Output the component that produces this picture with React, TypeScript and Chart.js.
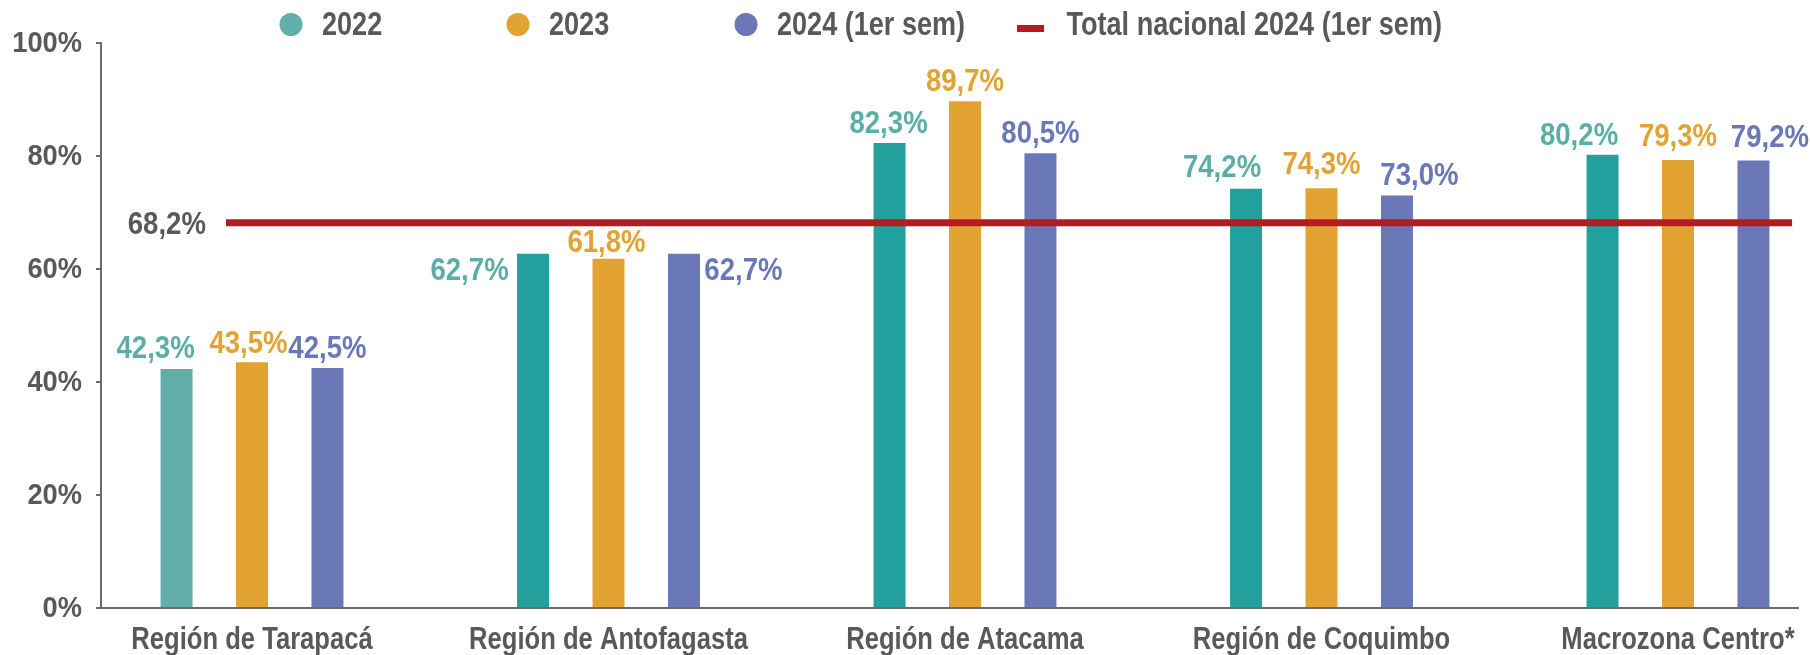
import React, { useEffect, useRef } from 'react';
import { Chart, registerables } from 'chart.js';

Chart.register(...registerables);

// ---------- data ----------
const CATEGORIES = [
  'Región de Tarapacá',
  'Región de Antofagasta',
  'Región de Atacama',
  'Región de Coquimbo',
  'Macrozona Centro*',
];
const SERIES_LABELS = ['2022', '2023', '2024 (1er sem)'];
const VALUES_2022 = [42.3, 62.7, 82.3, 74.2, 80.2];
const VALUES_2023 = [43.5, 61.8, 89.7, 74.3, 79.3];
const VALUES_2024 = [42.5, 62.7, 80.5, 73.0, 79.2];
const TOTAL_LABEL = 'Total nacional 2024 (1er sem)';
const TOTAL_NACIONAL = 68.2;
const Y_TICKS = [0, 20, 40, 60, 80, 100];

// ---------- style ----------
const FONT = "'Liberation Sans', Arial, sans-serif";
const TEXT = '#595959';
const AXIS = '#6b6b6b';
const TEAL = '#22a09e';
const TEAL_LIGHT = '#62afa9';
const TEAL_LABEL = '#5aaea6';
const ORANGE = '#e3a332';
const BLUE = '#6a78b8';
const RED = '#b31c22';

const X_MIN = -0.4236;
const X_MAX = 4.3366;
const LINE_FROM = -0.073;
const LINE_TO = 4.32;

const LABEL_COLORS = [TEAL_LABEL, ORANGE, BLUE];
const LABEL_DX = [
  [-21, -63.5, -1, -24, -23.5],
  [-3.5, -2, 0, 0, 0],
  [0, 59.5, 0, 22.5, 16.5],
];
const LABEL_DY = [
  [-21, 16, -20, -21.5, -20],
  [-19.5, -17, -20, -24, -24],
  [-20, 16, -20, -21, -24],
];
const LEGEND_X = [291, 518, 746, 1030.5];
const LEGEND_TEXT_GAP = [31, 31, 31, 36];
const LEGEND_COLORS = [TEAL_LIGHT, ORANGE, BLUE, RED];
const LEGEND_Y = 24.5;

const fmt = (v: number) => v.toFixed(1).replace('.', ',') + '%';

function drawText(
  ctx: CanvasRenderingContext2D,
  text: string,
  x: number,
  y: number,
  align: CanvasTextAlign,
  size: number,
  sx: number,
  color: string
) {
  ctx.save();
  ctx.font = `bold ${size}px ${FONT}`;
  ctx.fillStyle = color;
  ctx.textAlign = align;
  ctx.textBaseline = 'middle';
  ctx.translate(x, y + size * 0.05);
  ctx.scale(sx, 1);
  ctx.fillText(text, 0, 0);
  ctx.restore();
}

const textPlugin = {
  id: 'allText',
  afterDatasetsDraw(chart: any) {
    const ctx = chart.ctx as CanvasRenderingContext2D;
    const xs = chart.scales.x;
    const ys = chart.scales.y;
    // value labels
    for (let d = 0; d < 3; d++) {
      const meta = chart.getDatasetMeta(d);
      meta.data.forEach((el: any, i: number) => {
        const v = chart.data.datasets[d].data[i].y;
        drawText(ctx, fmt(v), el.x + LABEL_DX[d][i], el.y + LABEL_DY[d][i], 'center', 31, 0.89, LABEL_COLORS[d]);
      });
    }
    // total label
    drawText(
      ctx,
      fmt(TOTAL_NACIONAL),
      xs.getPixelForValue(LINE_FROM) - 20,
      ys.getPixelForValue(TOTAL_NACIONAL) + 1.5,
      'right',
      31,
      0.89,
      TEXT
    );
    // y tick labels
    Y_TICKS.forEach((v) => {
      drawText(ctx, v + '%', xs.left - 19, ys.getPixelForValue(v), 'right', 29, 0.94, TEXT);
    });
    // x tick labels
    CATEGORIES.forEach((c, i) => {
      drawText(ctx, c, xs.getPixelForValue(i), ys.bottom + 30.5, 'center', 32, 0.8, TEXT);
    });
  },
  afterDraw(chart: any) {
    const ctx = chart.ctx as CanvasRenderingContext2D;
    chart.data.datasets.forEach((ds: any, i: number) => {
      const cx = LEGEND_X[i];
      ctx.save();
      ctx.fillStyle = LEGEND_COLORS[i];
      if (ds.type === 'line') {
        ctx.fillRect(cx - 13.5, LEGEND_Y + 0.5, 27, 7);
      } else {
        ctx.beginPath();
        ctx.arc(cx, LEGEND_Y, 11.5, 0, Math.PI * 2);
        ctx.fill();
      }
      ctx.restore();
      drawText(ctx, ds.label, cx + LEGEND_TEXT_GAP[i], LEGEND_Y, 'left', 33, 0.82, TEXT);
    });
  },
};

export default function App() {
  const ref = useRef<HTMLCanvasElement | null>(null);

  useEffect(() => {
    if (!ref.current) return;
    const barCommon = {
      type: 'bar' as const,
      borderWidth: 0,
      barPercentage: 0.424,
      categoryPercentage: 0.635,
    };
    const chart = new Chart(ref.current, {
      type: 'bar',
      data: {
        datasets: [
          {
            ...barCommon,
            label: SERIES_LABELS[0],
            data: VALUES_2022.map((v, i) => ({ x: i, y: v })),
            backgroundColor: VALUES_2022.map((_, i) => (i === 0 ? TEAL_LIGHT : TEAL)),
          },
          {
            ...barCommon,
            label: SERIES_LABELS[1],
            data: VALUES_2023.map((v, i) => ({ x: i, y: v })),
            backgroundColor: ORANGE,
          },
          {
            ...barCommon,
            label: SERIES_LABELS[2],
            data: VALUES_2024.map((v, i) => ({ x: i, y: v })),
            backgroundColor: BLUE,
          },
          {
            type: 'line',
            label: TOTAL_LABEL,
            data: [
              { x: LINE_FROM, y: TOTAL_NACIONAL },
              { x: LINE_TO, y: TOTAL_NACIONAL },
            ],
            borderColor: RED,
            borderWidth: 7,
            borderCapStyle: 'butt',
            pointRadius: 0,
            fill: false,
            order: -1,
          } as any,
        ],
      },
      options: {
        animation: false,
        responsive: false,
        devicePixelRatio: 1,
        layout: { padding: { top: 43, right: 12, left: 0, bottom: 0 } },
        plugins: { legend: { display: false }, tooltip: { enabled: false } },
        scales: {
          x: {
            type: 'linear',
            min: X_MIN,
            max: X_MAX,
            offset: false,
            afterBuildTicks: (axis: any) => {
              axis.ticks = CATEGORIES.map((_, i) => ({ value: i }));
            },
            afterFit: (axis: any) => {
              axis.height = 47;
            },
            grid: { display: false, drawTicks: false },
            border: { display: true, color: AXIS, width: 2 },
            ticks: { display: false },
          },
          y: {
            min: 0,
            max: 100,
            afterBuildTicks: (axis: any) => {
              axis.ticks = Y_TICKS.map((v) => ({ value: v }));
            },
            afterFit: (axis: any) => {
              axis.width = 101;
            },
            grid: {
              display: true,
              drawOnChartArea: false,
              drawTicks: true,
              tickLength: 5,
              color: AXIS,
              lineWidth: 2,
            },
            border: { display: true, color: AXIS, width: 2 },
            ticks: { display: false },
          },
        },
      } as any,
      plugins: [textPlugin],
    });
    return () => chart.destroy();
  }, []);

  return (
    <div style={{ position: 'absolute', left: 0, top: 0, width: 1810, height: 655, background: '#fff' }}>
      <canvas ref={ref} width={1810} height={655} style={{ display: 'block' }} />
    </div>
  );
}
